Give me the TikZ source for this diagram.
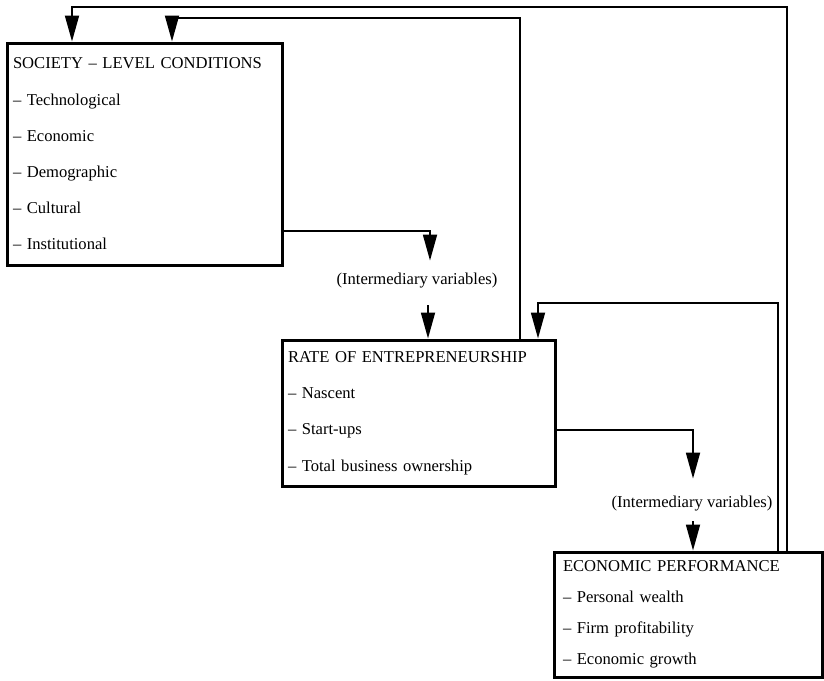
\documentclass[tikz,border=0pt]{standalone}
\usepackage{fontspec}
\setmainfont{Liberation Serif}
\usetikzlibrary{arrows.meta}

\begin{document}
\begin{tikzpicture}[x=1pt, y=-1pt, >={Triangle[length=26pt, width=14pt]}, line width=1.8pt,
    box/.style={draw, rectangle, line width=3pt, align=left, inner xsep=6pt, inner ysep=0pt},
    lbl/.style={inner sep=0pt, font=\fontsize{16.6}{20}\selectfont}]
     \useasboundingbox (0,0) rectangle (824,680);
     % the three boxes
     \node[box, minimum width=275pt, minimum height=222pt, text width=263pt,
           font=\fontsize{16.6}{36.2}\selectfont] (soc) at (144.5,154)
          {SOCIETY – LEVEL CONDITIONS\\– Technological\\– Economic\\– Demographic\\– Cultural\\– Institutional};
     \node[box, minimum width=273pt, minimum height=146pt, text width=261pt,
           font=\fontsize{16.6}{36.3}\selectfont] (rate) at (418.5,413)
          {RATE OF ENTREPRENEURSHIP\\– Nascent\\– Start-ups\\– Total business ownership};
     \node[box, minimum width=268pt, minimum height=125pt, text width=250pt, inner xsep=9pt,
           font=\fontsize{16.6}{31}\selectfont] (perf) at (688,614.5)
          {ECONOMIC PERFORMANCE\\– Personal wealth\\– Firm profitability\\– Economic growth};
     \node[lbl, anchor=base] (iv1) at (417,284) {(Intermediary variables)};
     \node[lbl, anchor=base] (iv2) at (692,507) {(Intermediary variables)};
     % bends
     \coordinate (j1) at (430,231);
     \coordinate (k1) at (428,0);
     \coordinate (j2) at (693,430);
     \coordinate (f1) at (172,18);
     \coordinate (f1r) at (520,18);
     \coordinate (f2) at (72,7);
     \coordinate (f2r) at (787,7);
     \coordinate (f3) at (538,303);
     \coordinate (f3r) at (778,303);
     % forward links
     \draw[->, shorten >=11pt](soc.east |- j1) -| (j1 |- iv1.north);
     \draw[->, shorten <=17pt](k1 |- iv1.south) -- (k1 |- rate.north);
     \draw[->, shorten >=16pt](rate.east |- j2) -| (j2 |- iv2.north);
     \draw[->, shorten <=10pt](j2 |- iv2.south) -- (j2 |- perf.north);
     % feedback links
     \draw[->](rate.north -| f1r) -- (f1r) -- (f1) -- (soc.north -| f1);
     \draw[->](perf.north -| f2r) -- (f2r) -- (f2) -- (soc.north -| f2);
     \draw[->](perf.north -| f3r) -- (f3r) -- (f3) -- (rate.north -| f3);
\end{tikzpicture}
\end{document}
